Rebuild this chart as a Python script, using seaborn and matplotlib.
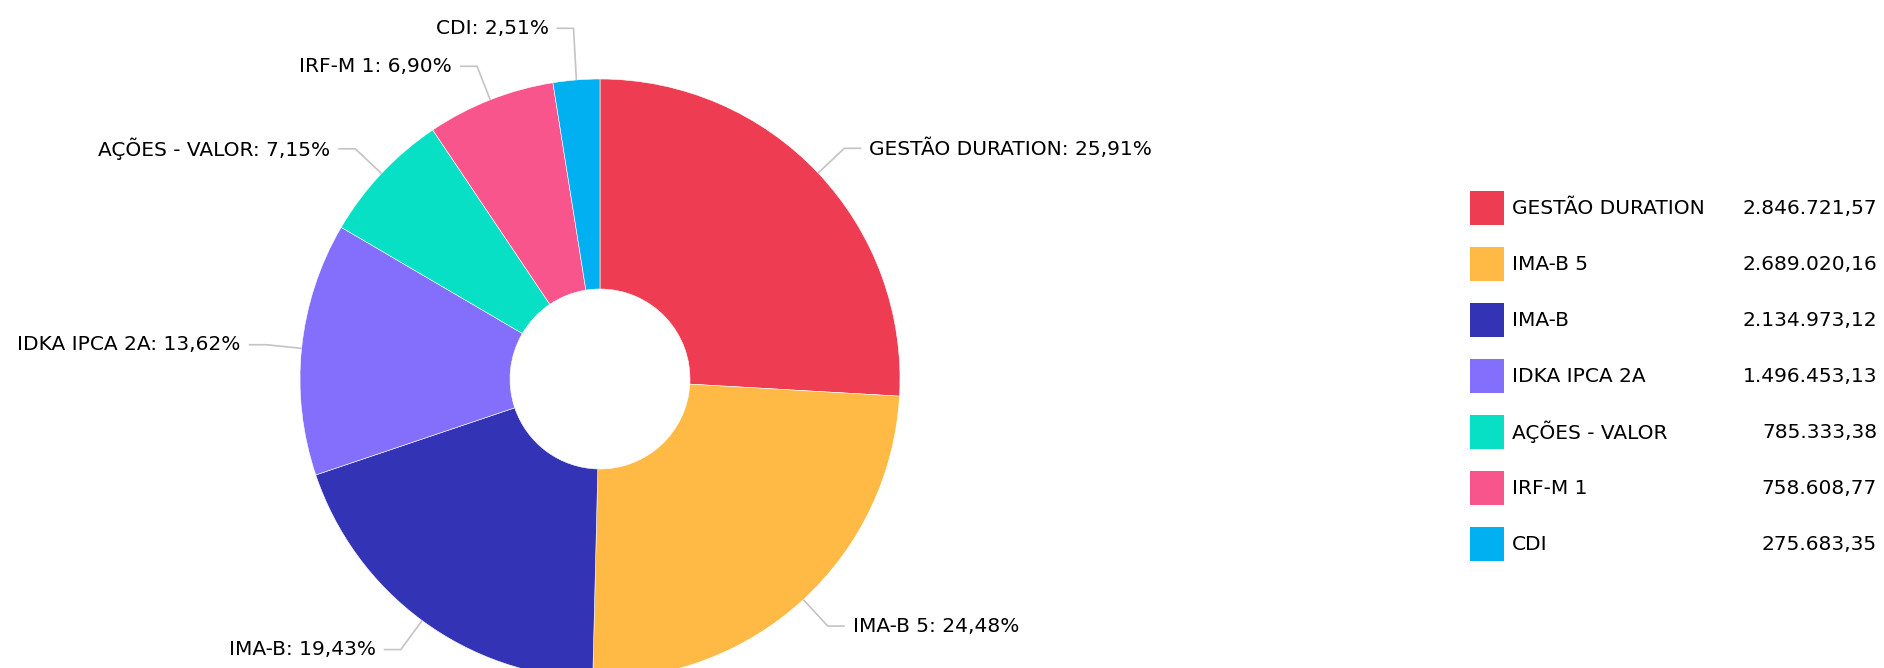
import numpy as np
import matplotlib
matplotlib.use("Agg")
import matplotlib.pyplot as plt
from matplotlib.patches import Rectangle
import seaborn as sns

# ---- data ----
categories = ["GESTÃO DURATION", "IMA-B 5", "IMA-B", "IDKA IPCA 2A",
              "AÇÕES - VALOR", "IRF-M 1", "CDI"]
values = [2846721.57, 2689020.16, 2134973.12, 1496453.13,
          785333.38, 758608.77, 275683.35]
value_labels = ["2.846.721,57", "2.689.020,16", "2.134.973,12", "1.496.453,13",
                "785.333,38", "758.608,77", "275.683,35"]
colors_hex = ["#EE3D52", "#FFBA45", "#3333B5", "#836FFB",
              "#08E0C6", "#F7558C", "#00B0F0"]

sns.set_theme(style="white")
plt.rcParams['font.family'] = ['DejaVu Sans']
palette = sns.color_palette(colors_hex)

W, H = 1884, 668
fig = plt.figure(figsize=(W / 100, H / 100), dpi=100)
ax = fig.add_axes([0, 0, 1, 1])
ax.set_xlim(0, W)
ax.set_ylim(0, H)
ax.set_aspect("equal")
ax.axis("off")

cx, cy, R = 600, H - 379, 300
hole = 0.30

wedges, _ = ax.pie(values, colors=palette, startangle=90, counterclock=False,
                   center=(cx, cy), radius=R,
                   wedgeprops=dict(width=R * (1 - hole), edgecolor="white", linewidth=0.4))
ax.set_xlim(0, W)
ax.set_ylim(0, H)

total = sum(values)
pcts = [v / total * 100 for v in values]

line_col = "#C4C4C4"
r_elbow = R * 1.12
min_gap = 38

# compute label anchor points
items = []
for w, name, p in zip(wedges, categories, pcts):
    ang = np.deg2rad((w.theta1 + w.theta2) / 2)
    x0, y0 = cx + R * np.cos(ang), cy + R * np.sin(ang)
    x1, y1 = cx + r_elbow * np.cos(ang), cy + r_elbow * np.sin(ang)
    side = 1 if np.cos(ang) >= 0 else -1
    items.append(dict(x0=x0, y0=y0, x1=x1, y1=y1, side=side, name=name, p=p))

# simple overlap avoidance on each side (push upward)
for side in (1, -1):
    group = sorted([it for it in items if it["side"] == side], key=lambda d: d["y1"])
    for a, b in zip(group, group[1:]):
        if b["y1"] - a["y1"] < min_gap:
            b["y1"] = a["y1"] + min_gap

for it in items:
    side = it["side"]
    x2 = it["x1"] + side * 17
    ax.plot([it["x0"], it["x1"], x2], [it["y0"], it["y1"], it["y1"]],
            color=line_col, lw=1.2, solid_capstyle="butt", zorder=1)
    txt = f"{it['name']}: {it['p']:.2f}%".replace(".", ",")
    ax.text(x2 + side * 8, it["y1"], txt, ha="left" if side > 0 else "right",
            va="center", fontsize=14.5, color="#000000")

# ---- legend ----
leg_x, leg_y0, sw, step = 1470, H - 191, 34, 56
for i, (name, val, col) in enumerate(zip(categories, value_labels, palette)):
    ytop = leg_y0 - i * step
    ax.add_patch(Rectangle((leg_x, ytop - sw), sw, sw, facecolor=col,
                           edgecolor="none"))
    yc = ytop - sw / 2
    ax.text(leg_x + 42, yc, name, ha="left", va="center", fontsize=14.5,
            color="#000000")
    ax.text(1877, yc, val, ha="right", va="center", fontsize=14.5,
            color="#000000")

fig.savefig("out.png", dpi=100, facecolor="white")
